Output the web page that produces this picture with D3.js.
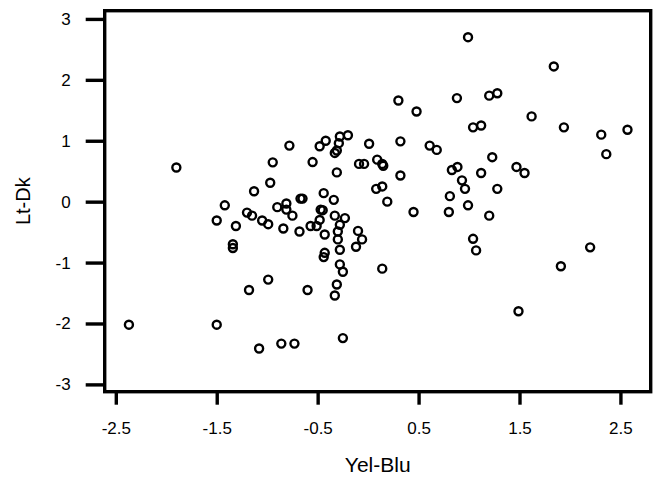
<!DOCTYPE html>
<html>
<head>
<meta charset="utf-8">
<script src="https://cdn.jsdelivr.net/npm/d3@7"></script>
<style>
    body { margin: 0; background: #fff; }
    .chart text { font-family: "Liberation Sans", Arial, sans-serif; fill: #000; }
    .dot { fill: none; stroke: #000; stroke-width: 2.4; }
</style>
</head>
<body>
<script>
(function() {

    // values
    var yelBlu = [-1.90, -1.13, -1.42, -1.50, -1.31, -1.20, -1.15, -1.34, -1.34, -2.37,
        -1.50, -1.18, -1.08, -0.78, -0.945, -0.97, -1.05, -0.99, -0.84, -0.90,
        -0.81, -0.81, -0.75, -0.67, -0.65, -0.68, -0.57, -0.51, -0.55, -0.48,
        -0.42, -0.28, -0.20, -0.29, -0.33, -0.31, -0.31, -0.44, -0.34, -0.47,
        -0.45, -0.48, -0.33, -0.23, -0.28, -0.43, -0.30, -0.30, -0.28, -0.43,
        -0.44, -0.10, -0.06, -0.12, -0.28, -0.25, -0.09, -0.04, 0.01, 0.09,
        0.14, 0.15, 0.08, 0.14, 0.19, 0.32, 0.32, 0.45, 0.61, 0.68,
        0.14, 0.30, 0.48, -0.99, -0.60, -0.31, -0.33, -0.86, -0.73, -0.25,
        0.99, 1.84, 0.88, 1.20, 1.28, 1.62, 1.04, 1.12, 1.94, 2.31,
        2.57, 2.36, 1.23, 0.83, 0.885, 1.12, 1.47, 1.55, 0.93, 0.96,
        0.81, 1.28, 0.99, 0.80, 1.20, 1.04, 1.07, 2.20, 1.91, 1.49];

    var ltDk = [0.56, 0.17, -0.06, -0.31, -0.40, -0.18, -0.23, -0.70, -0.76, -2.02,
        -2.02, -1.45, -2.41, 0.92, 0.645, 0.31, -0.31, -0.37, -0.44, -0.09,
        -0.03, -0.13, -0.23, 0.05, 0.05, -0.49, -0.40, -0.40, 0.65, 0.91,
        1.00, 1.07, 1.09, 0.96, 0.80, 0.84, 0.48, 0.14, 0.03, -0.13,
        -0.14, -0.30, -0.23, -0.27, -0.38, -0.54, -0.49, -0.62, -0.79, -0.84,
        -0.91, -0.48, -0.62, -0.74, -1.03, -1.15, 0.62, 0.62, 0.95, 0.69,
        0.62, 0.59, 0.21, 0.25, 0.00, 0.99, 0.43, -0.17, 0.92, 0.85,
        -1.10, 1.66, 1.48, -1.28, -1.45, -1.36, -1.54, -2.33, -2.33, -2.24,
        2.70, 2.22, 1.70, 1.74, 1.78, 1.40, 1.22, 1.25, 1.22, 1.10,
        1.18, 0.78, 0.73, 0.52, 0.57, 0.47, 0.57, 0.47, 0.35, 0.21,
        0.09, 0.21, -0.06, -0.17, -0.23, -0.61, -0.80, -0.75, -1.06, -1.80];

    var xTicks = [-2.5, -1.5, -0.5, 0.5, 1.5, 2.5];
    var yTicks = [-3, -2, -1, 0, 1, 2, 3];

    window.onload = setChart();

    function setChart() {
        var width = 656,
            height = 479;

        var margin = {left: 104.7, right: 5.3, top: 10.7, bottom: 87.3},
            innerW = width - margin.left - margin.right,
            innerH = height - margin.top - margin.bottom;

        var svg = d3.select("body")
            .append("svg")
            .attr("class", "chart")
            .attr("width", width)
            .attr("height", height);

        var g = svg.append("g")
            .attr("transform", "translate(" + margin.left + "," + margin.top + ")");

        var xScale = d3.scaleLinear()
            .domain([-2.61, 2.80])
            .range([0, innerW]);

        var yScale = d3.scaleLinear()
            .domain([-3.12, 3.135])
            .range([innerH, 0]);

        // plain hyphen, not the unicode minus d3 uses
        var xFormat = function(d){ return d3.format(".1f")(d).replace("\u2212", "-"); };
        var yFormat = function(d){ return d3.format("d")(d).replace("\u2212", "-"); };

        // x axis
        var xAxis = g.append("g")
            .attr("transform", "translate(0," + innerH + ")")
            .call(d3.axisBottom(xScale)
                .tickValues(xTicks)
                .tickSize(13)
                .tickPadding(17)
                .tickFormat(xFormat));
        xAxis.select(".domain").remove();
        xAxis.selectAll("line").attr("stroke", "#000").attr("stroke-width", 3.4);
        xAxis.selectAll("text").style("font-size", "17px");

        // y axis
        var yAxis = g.append("g")
            .call(d3.axisLeft(yScale)
                .tickValues(yTicks)
                .tickSize(19)
                .tickPadding(15)
                .tickFormat(yFormat));
        yAxis.select(".domain").remove();
        yAxis.selectAll("line").attr("stroke", "#000").attr("stroke-width", 3.4);
        yAxis.selectAll("text").style("font-size", "17px");

        // frame
        g.append("rect")
            .attr("x", 0)
            .attr("y", 0)
            .attr("width", innerW)
            .attr("height", innerH)
            .attr("fill", "none")
            .attr("stroke", "#000")
            .attr("stroke-width", 3.4);

        // points
        var points = d3.range(yelBlu.length).map(function(i){
            return {x: yelBlu[i], y: ltDk[i]};
        });

        g.selectAll(".dot")
            .data(points)
            .enter()
            .append("circle")
            .attr("class", "dot")
            .attr("cx", function(d){ return xScale(d.x); })
            .attr("cy", function(d){ return yScale(d.y); })
            .attr("r", 4);

        // axis titles
        svg.append("text")
            .attr("x", margin.left + innerW / 2)
            .attr("y", 472)
            .attr("text-anchor", "middle")
            .style("font-size", "21px")
            .text("Yel-Blu");

        svg.append("text")
            .attr("transform", "translate(30," + (margin.top + innerH / 2) + ") rotate(-90)")
            .attr("text-anchor", "middle")
            .style("font-size", "20px")
            .text("Lt-Dk");
    }; // setChart function

})();
</script>
</body>
</html>
